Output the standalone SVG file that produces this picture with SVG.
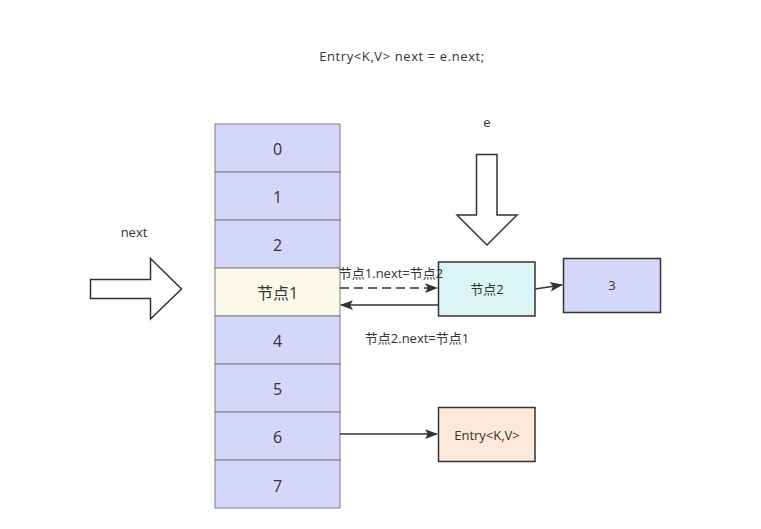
<svg xmlns="http://www.w3.org/2000/svg" width="761" height="529" viewBox="0 0 761 529">
<defs>
<style>
.cell{fill:#d4d7fa;stroke:#7f7f7f;stroke-width:1}
.box{stroke:#333;stroke-width:1.5}
.t{font-family:"Open Sans","Noto Sans CJK SC",sans-serif;fill:#333;text-anchor:middle;dominant-baseline:central}
.big{font-size:16px}
.sm{font-size:13px}
.ln{stroke:#333;stroke-width:1.6;fill:none}
.fat{fill:#fff;stroke:#333;stroke-width:1.5;stroke-linejoin:miter}
</style>
<marker id="ah2" viewBox="0 0 12 10" refX="11" refY="5" markerWidth="13" markerHeight="11" markerUnits="userSpaceOnUse" orient="auto"><path d="M0,0.5 L12,5 L0,9.5 L2.5,5 Z" fill="#333"/></marker>
</defs>
<rect width="761" height="529" fill="#fff"/>
<text class="t sm" x="402" y="56" style="letter-spacing:0.6px">Entry&lt;K,V&gt; next = e.next;</text>
<text class="t sm" x="487" y="122">e</text>
<text class="t sm" x="134" y="232">next</text>
<g id="array">
<g id="cell0"><rect class="cell" x="215" y="124" width="125" height="48"/><text class="t big" x="277.5" y="149">0</text></g>
<g id="cell1"><rect class="cell" x="215" y="172" width="125" height="48"/><text class="t big" x="277.5" y="197">1</text></g>
<g id="cell2"><rect class="cell" x="215" y="220" width="125" height="48"/><text class="t big" x="277.5" y="245">2</text></g>
<g id="cell3"><rect class="cell" x="215" y="268" width="125" height="48" style="fill:#fdf9ea"/><text class="t big" x="277.5" y="293">节点1</text></g>
<g id="cell4"><rect class="cell" x="215" y="316" width="125" height="48"/><text class="t big" x="277.5" y="341">4</text></g>
<g id="cell5"><rect class="cell" x="215" y="364" width="125" height="48"/><text class="t big" x="277.5" y="389">5</text></g>
<g id="cell6"><rect class="cell" x="215" y="412" width="125" height="48"/><text class="t big" x="277.5" y="437">6</text></g>
<g id="cell7"><rect class="cell" x="215" y="460" width="125" height="48"/><text class="t big" x="277.5" y="486">7</text></g>
</g>
<g id="node2"><rect class="box" x="438.5" y="262" width="96.5" height="54" fill="#dbf4f4"/><text class="t sm" x="487" y="289">节点2</text></g>
<g id="node3"><rect class="box" x="563.5" y="258.5" width="97" height="54" fill="#d4d7fa"/><text class="t sm" x="612" y="285">3</text></g>
<g id="entry"><rect class="box" x="438.5" y="407.5" width="96.5" height="54" fill="#fce9d9"/><text class="t sm" x="487" y="435">Entry&lt;K,V&gt;</text></g>
<g id="arrowNext"><path class="fat" d="M90.5,279.5 H150.5 V258.5 L181.5,289 L150.5,319 V298.5 H90.5 Z"/></g>
<g id="arrowE"><path class="fat" d="M476.5,154.5 H497 V215 H517 L487,245 L457,215 H476.5 Z"/></g>
<g id="connectors">
<line class="ln" x1="340" y1="288" x2="437" y2="288" stroke-dasharray="9 5" marker-end="url(#ah2)"/>
<line class="ln" x1="438" y1="305" x2="341" y2="305" marker-end="url(#ah2)"/>
<line class="ln" x1="535" y1="289" x2="562" y2="285" marker-end="url(#ah2)"/>
<line class="ln" x1="340" y1="434" x2="437" y2="434" marker-end="url(#ah2)"/>
</g>
<text class="t sm" x="391" y="273">节点1.next=节点2</text>
<text class="t sm" x="417" y="338">节点2.next=节点1</text>
</svg>
